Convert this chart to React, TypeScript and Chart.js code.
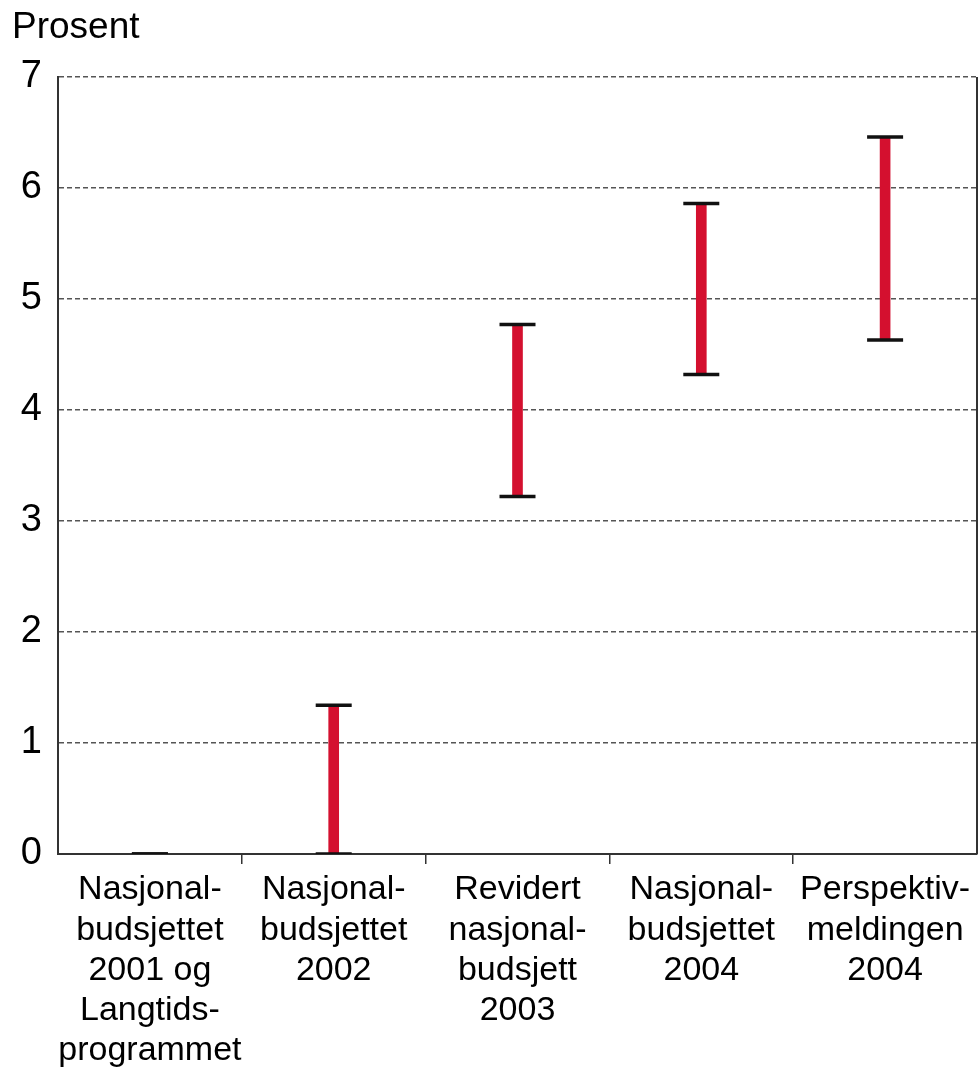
import React, { useEffect, useRef } from "react";
import { Chart, registerables } from "chart.js";

Chart.register(...registerables);

const categories: string[][] = [
  ["Nasjonal-", "budsjettet", "2001 og", "Langtids-", "programmet"],
  ["Nasjonal-", "budsjettet", "2002"],
  ["Revidert", "nasjonal-", "budsjett", "2003"],
  ["Nasjonal-", "budsjettet", "2004"],
  ["Perspektiv-", "meldingen", "2004"],
];
const lowValues = [0, 0, 3.22, 4.32, 4.63];
const highValues = [0, 1.34, 4.77, 5.86, 6.46];
const yTicks = [0, 1, 2, 3, 4, 5, 6, 7];
const yTitle = "Prosent";

const FONT = "'Liberation Sans', Arial, sans-serif";
const W = 980;
const H = 1071;

export default function App() {
  const ref = useRef<HTMLCanvasElement | null>(null);

  useEffect(() => {
    document.body.style.margin = "0";
    document.body.style.overflow = "hidden";
    document.documentElement.style.overflow = "hidden";
    const canvas = ref.current;
    if (!canvas) return;

    const framePlugin = {
      id: "frame",
      afterDraw(chart: any) {
        const { ctx, chartArea } = chart;
        ctx.save();
        ctx.strokeStyle = "#333";
        ctx.lineWidth = 2;
        ctx.beginPath();
        ctx.moveTo(chartArea.right, chartArea.top);
        ctx.lineTo(chartArea.right, chartArea.bottom);
        ctx.stroke();
        ctx.fillStyle = "#000";
        ctx.font = `37px ${FONT}`;
        ctx.textBaseline = "alphabetic";
        ctx.textAlign = "left";
        ctx.fillText(yTitle, 12, 38);
        ctx.restore();
      },
    };

    const capDataset = (values: number[]) =>
      ({
        type: "line",
        data: values,
        showLine: false,
        pointStyle: "line",
        pointRadius: 18,
        pointHoverRadius: 18,
        borderColor: "#111",
        pointBorderColor: "#111",
        borderWidth: 3.5,
        pointBorderWidth: 3.5,
        order: 1,
      }) as any;

    const chart = new Chart(canvas, {
      type: "bar",
      data: {
        labels: categories as any,
        datasets: [
          {
            type: "bar",
            data: lowValues.map((l, i) => [l, highValues[i]]) as any,
            backgroundColor: "#d4102f",
            borderWidth: 0,
            barThickness: 10,
            order: 2,
          } as any,
          capDataset(lowValues),
          capDataset(highValues),
        ],
      },
      options: {
        animation: false,
        responsive: false,
        maintainAspectRatio: false,
        layout: { autoPadding: false, padding: { top: 77, right: 3, left: 0, bottom: 0 } },
        plugins: {
          legend: { display: false },
          tooltip: { enabled: false },
          title: { display: false },
        },
        scales: {
          x: {
            offset: true,
            afterFit(scale: any) {
              scale.height = 217;
              scale.paddingLeft = 0;
              scale.paddingRight = 0;
            },
            border: { display: true, color: "#333", width: 2 },
            grid: {
              offset: true,
              drawOnChartArea: false,
              drawTicks: true,
              tickLength: 10,
              lineWidth: 1.5,
              color: (ctx: any) =>
                ctx.type !== "tick" || ctx.index === 0 ? "rgba(0,0,0,0)" : "#333",
            },
            ticks: {
              color: "#000",
              font: { family: FONT, size: 34, lineHeight: 1.18 },
              maxRotation: 0,
              minRotation: 0,
              autoSkip: false,
              padding: 6,
            },
          },
          y: {
            min: 0,
            max: 7,
            afterFit(scale: any) {
              scale.width = 58;
            },
            afterBuildTicks(scale: any) {
              scale.ticks = yTicks.map((v) => ({ value: v }));
            },
            border: { display: true, color: "#333", width: 2, dash: [5, 3] },
            grid: {
              drawTicks: false,
              color: (ctx: any) => (ctx.tick && ctx.tick.value === 0 ? "rgba(0,0,0,0)" : "#555"),
              lineWidth: 1.5,
            },
            ticks: {
              color: "#000",
              font: { family: FONT, size: 38 },
              padding: 16,
              stepSize: 1,
            },
          },
        },
      } as any,
      plugins: [framePlugin],
    });

    return () => chart.destroy();
  }, []);

  return (
    <div style={{ width: W, height: H, position: "relative", background: "#fff", overflow: "hidden" }}>
      <canvas ref={ref} width={W} height={H} style={{ display: "block", width: W, height: H }} />
    </div>
  );
}
